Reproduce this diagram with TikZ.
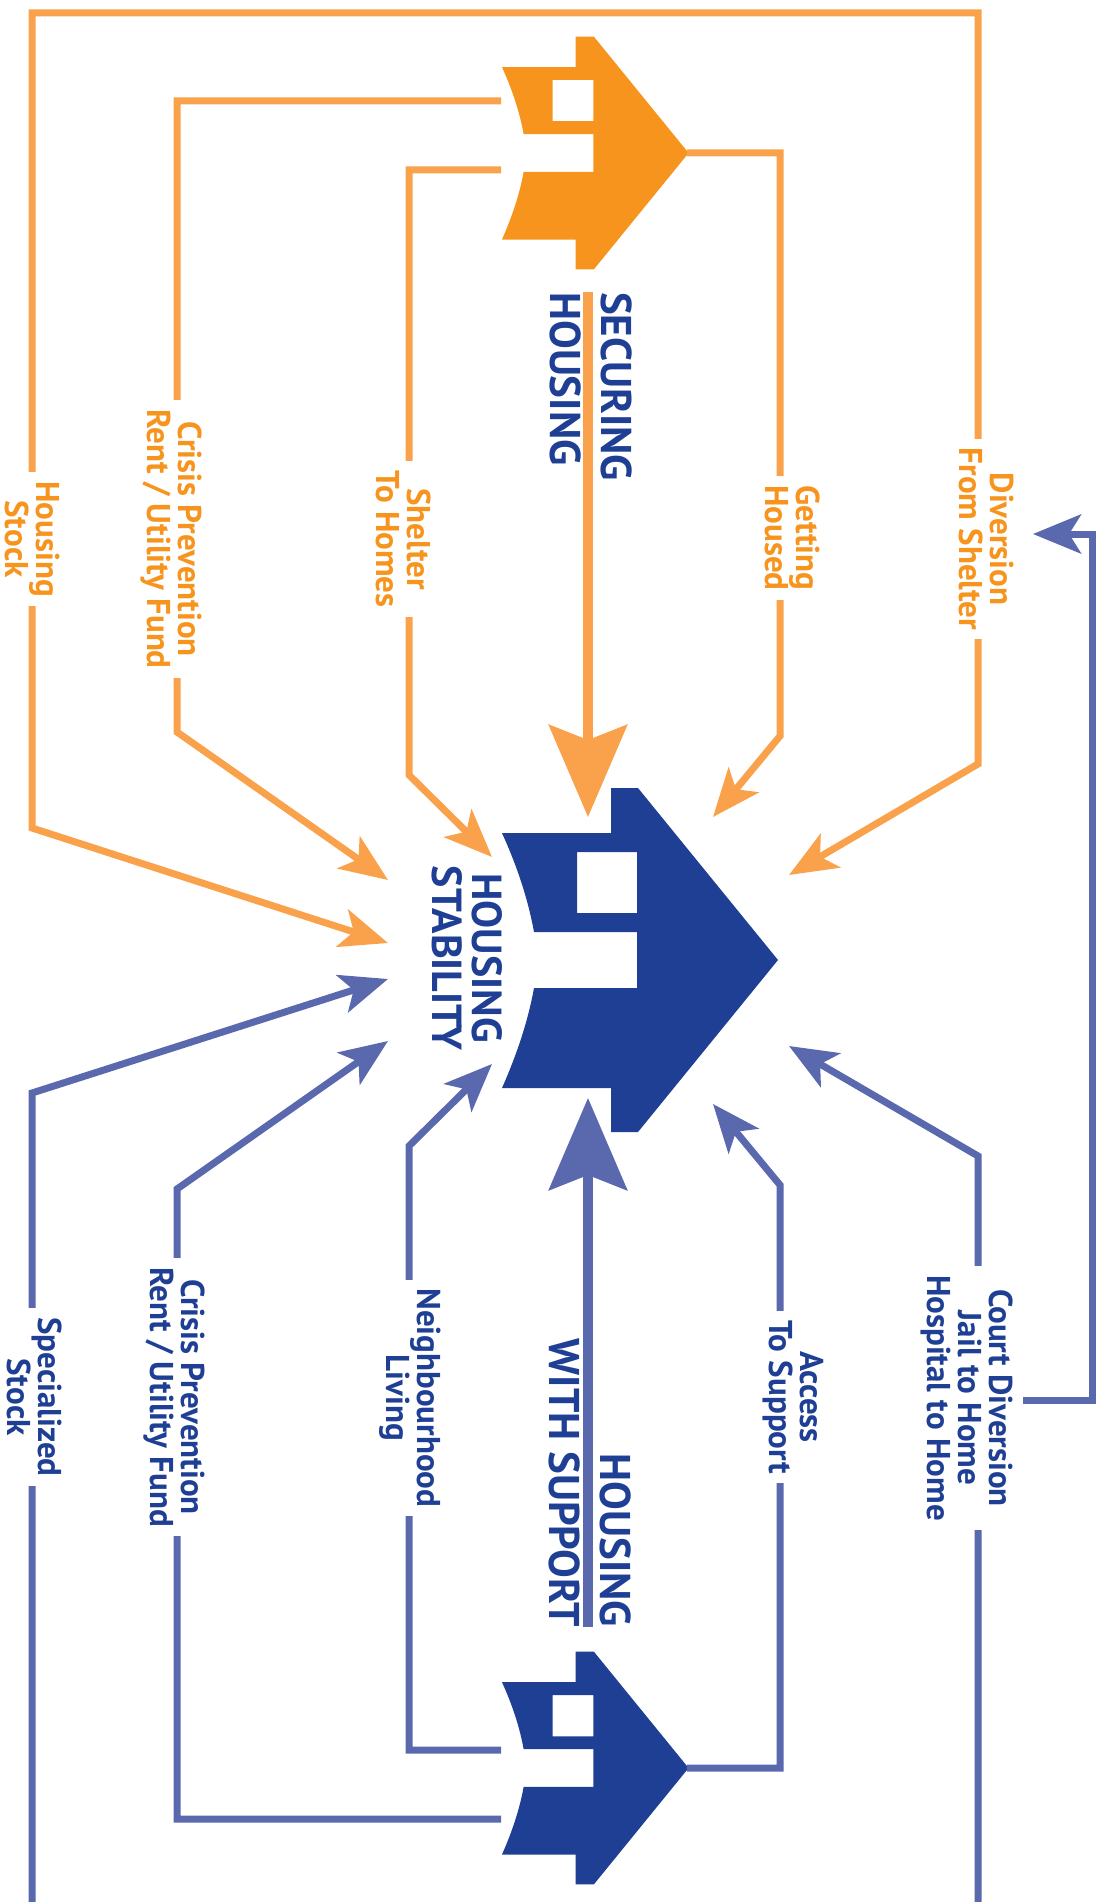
\documentclass[tikz,border=0pt]{standalone}
\usepackage{fontspec}
\setmainfont{PT Sans}
\usetikzlibrary{arrows.meta}

\definecolor{securefill}{HTML}{F7941D}
\definecolor{secureline}{HTML}{F9A24B}
\definecolor{stablefill}{HTML}{1E3F94}
\definecolor{supportline}{HTML}{5A68AE}

% house pointing right, origin at the middle of its left edge
\tikzset{
	house/.pic={
		\fill[#1,even odd rule] (109,-172) -- (136,-172) -- (276,0) -- (136,172) -- (109,172) -- (109,128) -- (0,128)
			.. controls (15,94) and (26,61) .. (32,28) -- (135,28) -- (135,-28) -- (32,-28)
			.. controls (26,-61) and (15,-94) .. (0,-127) -- (109,-127) -- cycle
			(75,-108) rectangle (135,-47);
	}
}

\begin{document}
\begin{tikzpicture}[x=1pt,y=-1pt,
		oline/.style={line width=7pt,draw=secureline},
		bline/.style={line width=7pt,draw=supportline},
		marrow/.style={-{Stealth[length=48pt,width=39pt,inset=12pt]}},
		bigarrow/.style={line width=9.5pt,-{Stealth[length=92pt,width=78pt,inset=15pt]}},
		lab/.style={rotate=-90,fill=white,align=center,inner xsep=9pt,inner ysep=0pt,font=\bfseries\fontsize{33}{31}\selectfont},
		olab/.style={lab,text=securefill},
		blab/.style={lab,text=stablefill},
		title/.style={rotate=-90,inner sep=0pt,text=stablefill,font=\bfseries\fontsize{43}{51}\selectfont}]
		\useasboundingbox (0,0) rectangle (1105,1902);

		% houses
		\pic at (502,153) [scale=0.676] {house=securefill};
		\pic at (502,960) {house=stablefill};
		\pic at (502,1768) [scale=0.676] {house=stablefill};

		% ports of the two small houses
		\coordinate (secure-crisis) at (501,101);
		\coordinate (secure-shelter) at (501,170);
		\coordinate (secure-apex) at (687,153);
		\coordinate (secure-stem) at (588,292);
		\coordinate (support-crisis) at (501,1819);
		\coordinate (support-neighbour) at (501,1750);
		\coordinate (support-apex) at (687,1768);
		\coordinate (support-stem) at (588,1627);
		\coordinate (stock-foot) at (32,1902);
		\coordinate (court-foot) at (978,1902);

		% targets round the stability house
		\coordinate (in-stock) at (388,943);
		\coordinate (in-crisis) at (388,880);
		\coordinate (in-shelter) at (492,857);
		\coordinate (in-secure) at (588,817);
		\coordinate (in-housed) at (713,817);
		\coordinate (in-diversion) at (789,875);
		\coordinate (in-special) at (388,979);
		\coordinate (in-crisis-support) at (388,1041);
		\coordinate (in-neighbour) at (492,1064);
		\coordinate (in-support) at (588,1098);
		\coordinate (in-access) at (713,1104);
		\coordinate (in-court) at (789,1046);
		\coordinate (loop-start) at (1023,1400);
		\coordinate (loop-tip) at (1033,534);

		% orange arrows
		\draw [oline,{Stealth[length=48pt,width=39pt,inset=12pt]}-{Stealth[length=48pt,width=39pt,inset=12pt]}]
			(in-stock) -- (32,828) -- (32,13) -- (978,13) -- (978,764) -- (in-diversion);
		\draw [oline,marrow] (secure-crisis) -- (177,101) -- (177,732) -- (in-crisis);
		\draw [oline,marrow] (secure-shelter) -- (409,170) -- (409,775) -- (in-shelter);
		\draw [oline,marrow] (secure-apex) -- (780,153) -- (780,736) -- (in-housed);
		\draw [draw=secureline,bigarrow] (secure-stem) -- (in-secure);

		% blue arrows
		\draw [bline,marrow] (stock-foot) -- (32,1093) -- (in-special);
		\draw [bline,marrow] (support-crisis) -- (177,1819) -- (177,1189) -- (in-crisis-support);
		\draw [bline,marrow] (support-neighbour) -- (409,1750) -- (409,1146) -- (in-neighbour);
		\draw [bline,marrow] (support-apex) -- (780,1768) -- (780,1185) -- (in-access);
		\draw [bline,marrow] (court-foot) -- (978,1156) -- (in-court);
		\draw [draw=supportline,bigarrow] (support-stem) -- (in-support);
		\draw [bline,marrow] (loop-start) -- (1092,1400) -- (1092,534) -- (loop-tip);

		% titles
		\node [title,align=left,anchor=north west] (secure-title) at (632,292) {SECURING\\HOUSING};
		\node [title,align=right,anchor=north east] (support-title) at (631,1627) {HOUSING\\WITH SUPPORT};
		\node [title,align=center,font=\bfseries\fontsize{42}{40}\selectfont] (stable-title) at (467,958) {HOUSING\\STABILITY};

		% labels on the lines
		\node [olab] (stock-label) at (33,539) {Housing\\Stock};
		\node [olab] (crisis-label) at (171,539) {Crisis Prevention\\Rent / Utility Fund};
		\node [olab] (shelter-label) at (404,539) {Shelter\\To Homes};
		\node [olab] (housed-label) at (793,538) {Getting\\Housed};
		\node [olab] (diversion-label) at (986,539) {Diversion\\From Shelter};
		\node [blab] (special-label) at (35,1397) {Specialized\\Stock};
		\node [blab] (crisis-support-label) at (174,1397) {Crisis Prevention\\Rent / Utility Fund};
		\node [blab] (neighbour-label) at (410,1398) {Neighbourhood\\Living};
		\node [blab] (access-label) at (793,1397) {Access\\To Support};
		\node [blab] (court-label) at (967,1398) {Court Diversion\\Jail to Home\\Hospital to Home};
	\end{tikzpicture}
\end{document}
